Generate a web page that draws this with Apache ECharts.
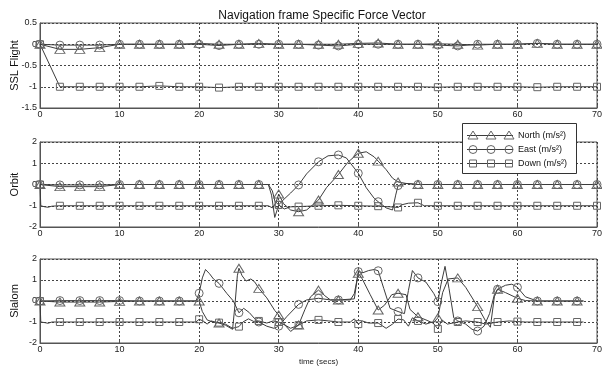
<!DOCTYPE html>
<html>
<head>
<meta charset="utf-8">
<script src="https://cdn.jsdelivr.net/npm/echarts@6/dist/echarts.min.js"></script>
<style>
  html, body { margin: 0; padding: 0; background: #fff; }
  #chart { width: 602px; height: 366px; }
</style>
</head>
<body>
<div id="chart"></div>
<script>
// ---- Specific force, navigation frame: [time (s), value (m/s^2)] ----

// SSL Flight
const sslNorth = [[0,0],[2.5,-0.12],[5,-0.12],[7.5,-0.08],[10,0],[12.5,0],[15,0],[17.5,0],[20,0.02],[22.5,0],[25,0],[27.5,0.02],[30,0],[32.5,0],[35,0],[37.5,0],[40,0.02],[42.5,0.03],[45,0],[47.5,0],[50,0.01],[52.5,0],[55,-0.02],[57.5,0],[60,0],[62.5,0.02],[65,0],[67.5,0],[70,0]];
const sslEast = [[0,0],[2.5,-0.02],[5,-0.02],[7.5,-0.02],[10,0],[12.5,0],[15,0],[17.5,0],[20,0],[22.5,-0.03],[25,0],[27.5,0],[30,0],[32.5,0],[35,-0.02],[37.5,-0.04],[40,0],[42.5,0],[45,0],[47.5,0],[50,-0.02],[52.5,-0.04],[55,0],[57.5,0],[60,0],[62.5,0.02],[65,0],[67.5,0],[70,0]];
const sslDown = [[0,0],[2.5,-1],[5,-1],[7.5,-1],[10,-1],[12.5,-1],[15,-0.98],[17.5,-1],[20,-1],[22.5,-1.02],[25,-1],[27.5,-1],[30,-1],[32.5,-1],[35,-1],[37.5,-1],[40,-1],[42.5,-1],[45,-1],[47.5,-1],[50,-1.01],[52.5,-1],[55,-1],[57.5,-1],[60,-1],[62.5,-1.01],[65,-1],[67.5,-1],[70,-1]];

// Orbit
const orbNorth = [[0,0],[2.5,-0.1],[5,-0.1],[7.5,-0.1],[10,0],[12.5,0],[15,0],[17.5,0],[20,0],[22.5,0],[25,0],[27.5,0],[28.7,0],[29.2,-0.3],[29.6,-0.9],[30,-0.45],[30.6,-0.9],[31.5,-1.2],[32.5,-1.28],[33.5,-1.2],[34.3,-0.95],[35,-0.73],[36,-0.15],[37.5,0.47],[38.7,1.05],[40,1.47],[41,1.54],[42,1.3],[42.5,1.1],[43.5,0.7],[44.3,0.3],[45,0.12],[46,0.05],[47.5,0],[50,0],[52.5,0],[55,0],[57.5,0],[60,0],[62.5,0],[65,0],[67.5,0],[70,0]];
const orbEast = [[0,0],[2.5,-0.02],[5,-0.02],[7.5,-0.02],[10,0],[12.5,0],[15,0],[17.5,0],[20,0],[22.5,0],[25,0],[27.5,0],[28.7,0],[29.1,-0.5],[29.5,-1.55],[29.8,-1.2],[30,-0.96],[30.5,-0.75],[31.5,-0.4],[32.5,-0.02],[33.5,0.5],[35,1.07],[36.2,1.35],[37.5,1.39],[38.5,1.25],[40,0.53],[41,-0.15],[42,-0.65],[42.5,-0.81],[43.5,-1.1],[44.3,-1.2],[44.7,-0.5],[45,-0.05],[46,0.05],[47.5,0],[50,0],[52.5,0],[55,0],[57.5,0],[60,0],[62.5,0],[65,0],[67.5,0],[70,0]];
const orbDown = [[0,0],[0.1,-1],[0.6,-1.05],[1,-1.07],[1.5,-1.02],[2.5,-1],[5,-1],[7.5,-1],[10,-1],[12.5,-1],[15,-1],[17.5,-1],[20,-1],[22.5,-1],[25,-1],[27.5,-1],[28.7,-1],[29.2,-1.1],[29.7,-0.85],[30,-0.96],[30.7,-1.15],[31.5,-1.05],[32.5,-1.04],[35,-1.0],[37.5,-0.98],[40,-1.0],[42.5,-1.02],[44,-1.05],[45,-1.08],[45.5,-0.95],[46.3,-0.88],[47.5,-0.86],[48.3,-1.0],[50,-1],[52.5,-1],[55,-1],[57.5,-1],[60,-1],[62.5,-1],[65,-1],[67.5,-1],[70,-1]];

// Slalom
const slmNorth = [[0,0],[2.5,-0.05],[5,-0.05],[7.5,-0.05],[10,-0.02],[12.5,0],[15,0],[17.5,0],[20,0],[20.4,-0.5],[21,-0.9],[21.7,-1.0],[22.5,-1.05],[23.3,-1.15],[24.2,-1.35],[24.5,-0.2],[24.8,1.2],[25,1.56],[25.4,1.2],[25.9,0.95],[26.5,1.05],[27,0.9],[27.5,0.6],[28.5,0.15],[29.5,-0.45],[30,-0.67],[30.8,-1.15],[31.5,-1.45],[32.5,-1.14],[33.3,-0.4],[34,0.2],[35,0.52],[35.8,0.25],[36.5,0.05],[37.5,0.05],[39,0.05],[39.5,0.35],[40,1.32],[40.5,1.05],[41.5,0.3],[42.5,-0.43],[43.3,-0.2],[44.2,0.3],[45,0.37],[46,0.3],[46.5,-0.4],[47.5,-0.75],[48.5,-0.9],[49.4,-1.05],[50,-0.8],[50.6,0.4],[51.3,1.05],[52.5,1.1],[53.5,0.65],[55,-0.27],[56,-0.95],[56.6,-1.25],[57.1,0.2],[57.5,0.56],[58.5,0.4],[60,0.13],[61,0.02],[62.5,0],[65,0],[67.5,0],[68.3,0]];
const slmEast = [[0,0],[2.5,0.02],[5,0.02],[7.5,0.02],[10,0.02],[12.5,0],[15,0],[17.5,0],[19.6,0],[20,0.37],[20.4,1.1],[20.8,1.5],[21.3,1.3],[21.8,1.05],[22.5,0.84],[23.5,0.35],[24.3,0.0],[25,-0.56],[25.6,-0.35],[26.3,-0.55],[27,-0.85],[27.5,-1.0],[28.5,-1.2],[29.4,-1.3],[30,-1.2],[31,-0.75],[32.5,-0.16],[33.5,0.05],[35,0.13],[36.5,0.05],[37.5,0.05],[39.5,0.1],[40,1.4],[40.6,1.35],[41.3,1.45],[42,1.5],[42.5,1.44],[43.2,0.6],[44,-0.35],[45,-0.5],[45.8,-0.6],[46.3,0.5],[46.8,1.45],[47.5,1.1],[48.5,0.9],[49.5,0.35],[50,-0.03],[50.4,0.8],[50.9,1.65],[51.4,0.6],[52,-0.8],[52.5,-0.95],[53.5,-1.1],[54.3,-1.35],[55,-1.43],[55.8,-1.2],[56.5,-0.6],[57.1,0.3],[57.5,0.56],[58.5,0.75],[59.3,0.8],[60,0.65],[61,0.2],[62.5,0],[65,0],[67.5,0],[68.3,0]];
const slmDown = [[0,0],[0.1,-1],[0.6,-1.03],[1,-1.06],[1.5,-1.0],[2.5,-1],[5,-1],[7.5,-1],[10,-1],[12.5,-1],[15,-1],[17.5,-1],[19.6,-1],[20,-0.87],[20.5,-0.95],[21,-1.1],[21.5,-0.95],[22,-1.0],[22.5,-1.03],[23.3,-1.1],[24.2,-1.3],[25,-1.22],[25.5,-1.0],[26.2,-0.85],[27,-1.0],[27.5,-0.95],[28.5,-1.05],[29.3,-0.95],[30,-1.0],[30.8,-1.15],[31.5,-1.3],[32.5,-1.15],[33.5,-0.95],[35,-0.9],[36.3,-0.95],[37.5,-1.0],[39,-1.0],[39.5,-0.85],[40,-1.1],[40.5,-0.95],[41.3,-1.05],[42.5,-1.05],[43.5,-1.3],[44.3,-1.1],[45,-0.86],[45.7,-0.9],[46.3,-1.2],[46.8,-0.8],[47.5,-0.95],[48.5,-1.1],[49.3,-1.0],[50,-1.33],[50.5,-0.9],[51.2,-1.1],[52.5,-1.0],[53.5,-0.95],[55,-1.0],[56,-1.1],[57.5,-1.0],[59,-0.95],[60,-0.98],[61,-1.0],[62.5,-1.0],[65,-1.0],[67.5,-1.0],[68.3,-1.0]];

const panelNames = ['SSL Flight', 'Orbit', 'Slalom'];
const yRanges = [[-1.5, 0.5, 0.5], [-2, 2, 1], [-2, 2, 1]];
const xTicks = [0, 70, 10];
const legendNames = ['North (m/s\u00B2)', 'East (m/s\u00B2)', 'Down (m/s\u00B2)'];
const panelData = [
  [sslNorth, sslEast, sslDown],
  [orbNorth, orbEast, orbDown],
  [slmNorth, slmEast, slmDown]
];

// ---- layout / style ----
const FONT = 'Arial, "Liberation Sans", sans-serif';
const grids = [
  { left: 40, right: 5, top: 23, height: 85 },
  { left: 40, right: 5, top: 142, height: 85 },
  { left: 40, right: 5, top: 259, height: 84 }
];
const LINE = '#3c3c3c';
const MARK = '#666';
const AXIS = '#555';
const markers = [
  { symbol: 'triangle', size: [10, 8] },
  { symbol: 'circle', size: [8, 8] },
  { symbol: 'rect', size: [7, 7] }
];
// markers sit on every 2.5 s sample
const onMarkStep = t => Math.abs(t / 2.5 - Math.round(t / 2.5)) < 1e-6;

const xAxes = grids.map((g, i) => ({
  gridIndex: i, type: 'value',
  min: xTicks[0], max: xTicks[1], interval: xTicks[2],
  axisLine: { show: true, onZero: false, lineStyle: { color: AXIS, width: 1 } },
  axisTick: { show: true, inside: true, length: 3, lineStyle: { color: AXIS } },
  axisLabel: { fontFamily: FONT, fontSize: 9, color: '#222', margin: 2 },
  splitLine: { show: true, lineStyle: { color: '#444', type: [2, 2], width: 1 } },
  name: i === 2 ? 'time (secs)' : '',
  nameLocation: 'middle', nameGap: 15, nameMoveOverlap: false,
  nameTextStyle: { fontFamily: FONT, fontSize: 8, color: '#222' }
}));

const yAxes = grids.map((g, i) => ({
  gridIndex: i, type: 'value',
  min: yRanges[i][0], max: yRanges[i][1], interval: yRanges[i][2],
  axisLine: { show: true, onZero: false, lineStyle: { color: AXIS, width: 1 } },
  axisTick: { show: true, inside: true, length: 3, lineStyle: { color: AXIS } },
  axisLabel: { fontFamily: FONT, fontSize: 9, color: '#222', margin: 3 },
  splitLine: { show: true, lineStyle: { color: '#444', type: [2, 2], width: 1 } },
  name: panelNames[i], nameLocation: 'middle', nameRotate: 90, nameGap: 20,
  nameMoveOverlap: false,
  nameTextStyle: { fontFamily: FONT, fontSize: 11, color: '#111' }
}));

const series = [];
panelData.forEach((set, p) => {
  set.forEach((data, k) => {
    const m = markers[k];
    series.push({
      type: 'line', name: legendNames[k],
      xAxisIndex: p, yAxisIndex: p,
      data: data,
      symbol: m.symbol,
      symbolSize: v => onMarkStep(v[0]) ? m.size : [0, 0],
      showSymbol: true, showAllSymbol: true,
      lineStyle: { color: LINE, width: 1 },
      itemStyle: { color: 'none', borderColor: MARK, borderWidth: 1 },
      emphasis: { disabled: true },
      silent: true
    });
  });
});

// legend box drawn inside the Orbit panel
const lgX = 462, lgY = 123, lgW = 114, lgH = 50;
const rowY = [135, 149, 163];
const markX = [473, 491, 509];
const legendEls = [{
  type: 'rect', z: 100,
  shape: { x: lgX + 0.5, y: lgY + 0.5, width: lgW, height: lgH },
  style: { fill: '#fff', stroke: '#333', lineWidth: 1 }
}];
rowY.forEach((y, k) => {
  legendEls.push({
    type: 'line', z: 101,
    shape: { x1: 467, y1: y + 0.5, x2: 513, y2: y + 0.5 },
    style: { stroke: LINE, lineWidth: 1 }
  });
  markX.forEach(x => {
    let el;
    if (k === 0) {
      el = { type: 'polygon', shape: { points: [[x, y - 4], [x - 5, y + 4], [x + 5, y + 4]] } };
    } else if (k === 1) {
      el = { type: 'circle', shape: { cx: x, cy: y + 0.5, r: 4 } };
    } else {
      el = { type: 'rect', shape: { x: x - 3.5, y: y - 3, width: 7, height: 7 } };
    }
    el.z = 102;
    el.style = { fill: 'none', stroke: MARK, lineWidth: 1 };
    legendEls.push(el);
  });
  legendEls.push({
    type: 'text', z: 103,
    style: { text: legendNames[k], x: 518, y: y + 1, verticalAlign: 'middle',
             font: '9px ' + FONT, fill: '#111' }
  });
});

const chart = echarts.init(document.getElementById('chart'), null, { renderer: 'canvas' });
chart.setOption({
  animation: false,
  backgroundColor: '#fff',
  title: {
    text: 'Navigation frame Specific Force Vector',
    left: 317, top: 5, textAlign: 'center',
    textStyle: { fontFamily: FONT, fontSize: 12, fontWeight: 'normal', color: '#111' }
  },
  grid: grids.map(g => Object.assign({
    show: true, borderColor: AXIS, borderWidth: 1, backgroundColor: '#fff',
    containLabel: false, outerBoundsMode: 'none'
  }, g)),
  xAxis: xAxes,
  yAxis: yAxes,
  series: series,
  graphic: { elements: legendEls }
});
</script>
</body>
</html>
